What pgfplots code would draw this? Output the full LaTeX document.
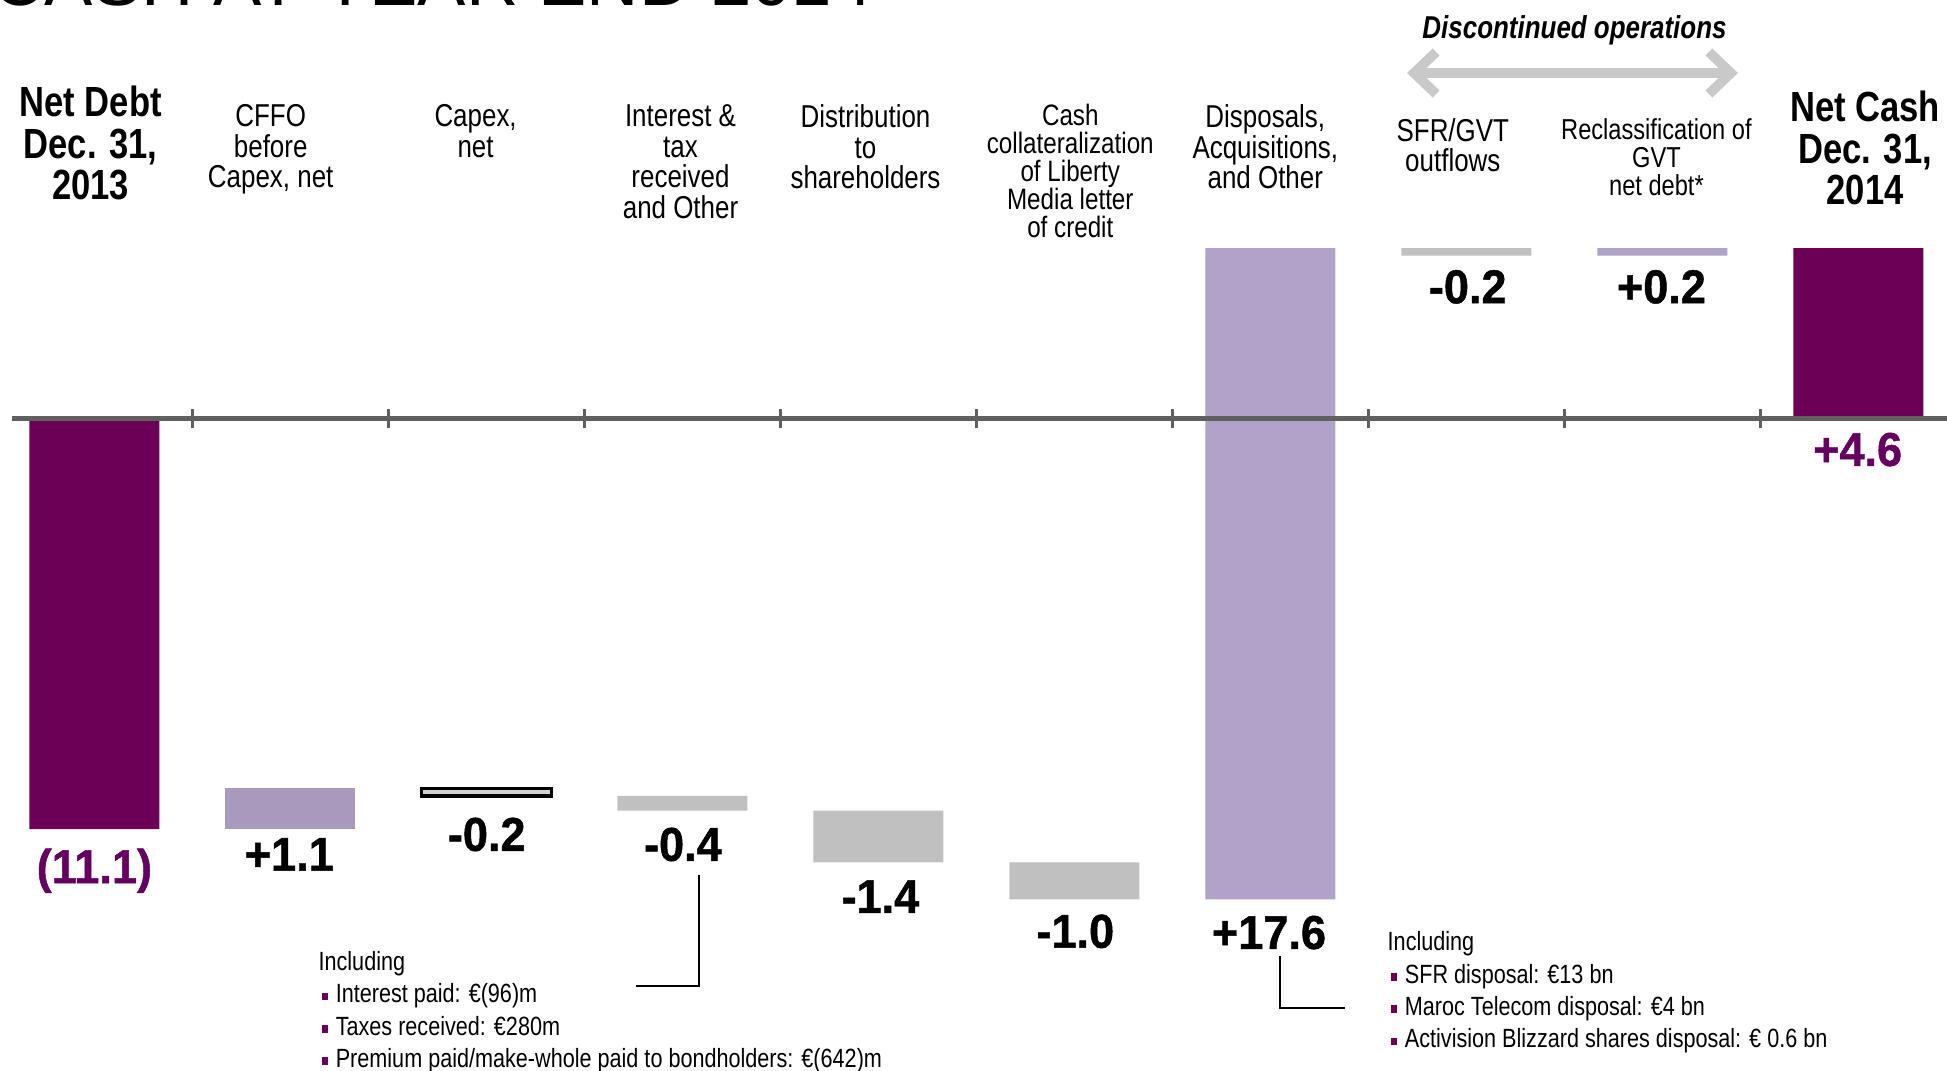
\documentclass[border=0pt]{standalone}
\usepackage{pgfplots}
\pgfplotsset{compat=1.18}
\usepackage{fontspec}
\setmainfont{Liberation Sans}
\newfontfamily\narrow{Liberation Sans}[FakeStretch=0.82]
\newfontfamily\heavy{Liberation Sans}[FakeStretch=0.95, BoldFeatures={FakeBold=1}]
\usetikzlibrary{arrows.meta}
\definecolor{dpurple}{HTML}{6C0057}
\definecolor{lavA}{HTML}{A89ABD}
\definecolor{lavB}{HTML}{B1A2C9}
\definecolor{barg}{HTML}{C0C0C0}
\definecolor{capg}{HTML}{D0D0D0}
\definecolor{axg}{HTML}{5F5F5F}
\definecolor{arrg}{HTML}{C9C9C9}
\definecolor{ptext}{HTML}{650060}
\newcommand\bul{{\color{dpurple}\rule[0.25mm]{0.55mm}{0.75mm}}\hspace{0.8mm}}
\begin{document}
\begin{tikzpicture}
\pgfplotsset{wf/.style={
  at={(1.2mm,0mm)}, anchor=south west,
  x=19.6mm, y=3.7mm,
  xmin=-0.4204, xmax=9.452, ymin=-17.61, ymax=11.31,
  scale only axis, clip=false, enlargelimits=false,
  ybar stacked, stack negative=on previous, bar width=13mm}}
\begin{axis}[wf,
  axis x line*=middle, axis y line=none,
  xtick={0.5,1.5,...,8.5}, xticklabels={}, ytick=\empty,
  xtick align=center, major tick length=1.9mm,
  every tick/.style={axg, line width=0.9pt},
  axis line style={axg, line width=1.4pt},
  axis on top]
% invisible base (running level before each step)
\addplot[draw=none, fill=none] coordinates {(0,0) (1,-11.1) (2,-10.0) (3,-10.2) (4,-10.6) (5,-12.0) (6,-13.0) (7,4.6) (8,4.4) (9,0)};
% net debt / net cash
\addplot[draw=none, fill=dpurple] coordinates {(0,-11.1) (1,0) (2,0) (3,0) (4,0) (5,0) (6,0) (7,0) (8,0) (9,4.6)};
% CFFO
\addplot[draw=none, fill=lavA] coordinates {(0,0) (1,1.1) (2,0) (3,0) (4,0) (5,0) (6,0) (7,0) (8,0) (9,0)};
% disposals, reclassification
\addplot[draw=none, fill=lavB] coordinates {(0,0) (1,0) (2,0) (3,0) (4,0) (5,0) (6,17.6) (7,0) (8,0.2) (9,0)};
% outflows
\addplot[draw=none, fill=barg] coordinates {(0,0) (1,0) (2,0) (3,-0.4) (4,-1.4) (5,-1.0) (6,0) (7,-0.2) (8,0) (9,0)};
\end{axis}
\begin{axis}[wf, hide axis]
\addplot[draw=none, fill=none] coordinates {(2,-10.0)};
\addplot[draw=black, line width=1pt, fill=capg] coordinates {(2,-0.2)};
\end{axis}
\begin{scope}[shift={(0,107mm)}, x=0.1mm, y=-0.1mm,
  lab/.style={font=\narrow\fontsize{9}{8.7}\selectfont, align=center, anchor=north, inner sep=0pt},
  hd/.style={font=\narrow\bfseries\fontsize{12}{11.8}\selectfont, align=center, anchor=north, inner sep=0pt},
  val/.style={font=\heavy\bfseries\fontsize{13.5}{13.5}\selectfont, anchor=base, inner sep=0pt},
  ann/.style={font=\narrow\fontsize{7.5}{9}\selectfont, anchor=base west, inner sep=0pt}]
\node[anchor=base west, inner sep=0pt, font=\fontsize{20.6}{24}\selectfont] at (-8,6) {CASH AT YEAR END 2014};
\node[hd] at (90.6,85.4) {Net Debt\\Dec. 31,\\2013};
\node[lab] at (270.7,104) {CFFO\\before\\Capex, net};
\node[lab] at (475.6,104) {Capex,\\net};
\node[lab] at (680.5,104) {Interest \&\\tax\\received\\and Other};
\node[lab] at (865.5,104) {Distribution\\to\\shareholders};
\node[lab, font=\narrow\fontsize{8.4}{7.95}\selectfont] at (1070.3,103.5) {Cash\\collateralization\\of Liberty\\Media letter\\of credit};
\node[lab] at (1265.3,104) {Disposals,\\Acquisitions,\\and Other};
\node[lab] at (1452.8,117.7) {SFR/GVT\\outflows};
\node[lab, font=\narrow\fontsize{8.2}{7.95}\selectfont] at (1656.4,117.7) {Reclassification of\\GVT\\net debt*};
\node[hd] at (1865,90.3) {Net Cash\\Dec. 31,\\2014};
\node[font=\narrow\bfseries\itshape\fontsize{9}{10}\selectfont, anchor=base, inner sep=0pt] at (1574.5,38.7) {Discontinued operations};
\draw[arrg, line width=2.8pt, {Straight Barb[length=2.2mm,width=4.2mm]}-{Straight Barb[length=2.2mm,width=4.2mm]}] (1407,73) -- (1738,73);
% values
\node[val, text=ptext] at (94.4,883.1) {(11.1)};
\node[val] at (289.3,870.7) {+1.1};
\node[val] at (486.7,850.8) {-0.2};
\node[val] at (682.9,860.8) {-0.4};
\node[val] at (880.4,912.9) {-1.4};
\node[val] at (1075.3,947.7) {-1.0};
\node[val] at (1269.0,948.9) {+17.6};
\node[val] at (1467.7,303.2) {-0.2};
\node[val] at (1661.4,303.2) {+0.2};
\node[val, text=ptext] at (1857.6,465.9) {+4.6};
% annotations
\node[ann] at (317.9,970.5) {Including};
\node[ann] at (321.6,1002.9) {\bul Interest paid: €(96)m};
\node[ann] at (321.6,1035.1) {\bul Taxes received: €280m};
\node[ann] at (321.6,1067.4) {\bul Premium paid/make-whole paid to bondholders: €(642)m};
\node[ann] at (1387,950.7) {Including};
\node[ann] at (1390.7,983) {\bul SFR disposal: €13 bn};
\node[ann] at (1390.7,1015.3) {\bul Maroc Telecom disposal: €4 bn};
\node[ann] at (1390.7,1047.6) {\bul Activision Blizzard shares disposal: € 0.6 bn};
\draw[black, line width=0.55pt] (699.1,875.4) -- (699.1,985.9) -- (635.7,985.9);
\draw[black, line width=0.55pt] (1280.2,956.1) -- (1280.2,1008.3) -- (1344.8,1008.3);
\end{scope}
\pgfresetboundingbox
\useasboundingbox (0,0) rectangle (194.7mm,107mm);
\end{tikzpicture}
\end{document}
